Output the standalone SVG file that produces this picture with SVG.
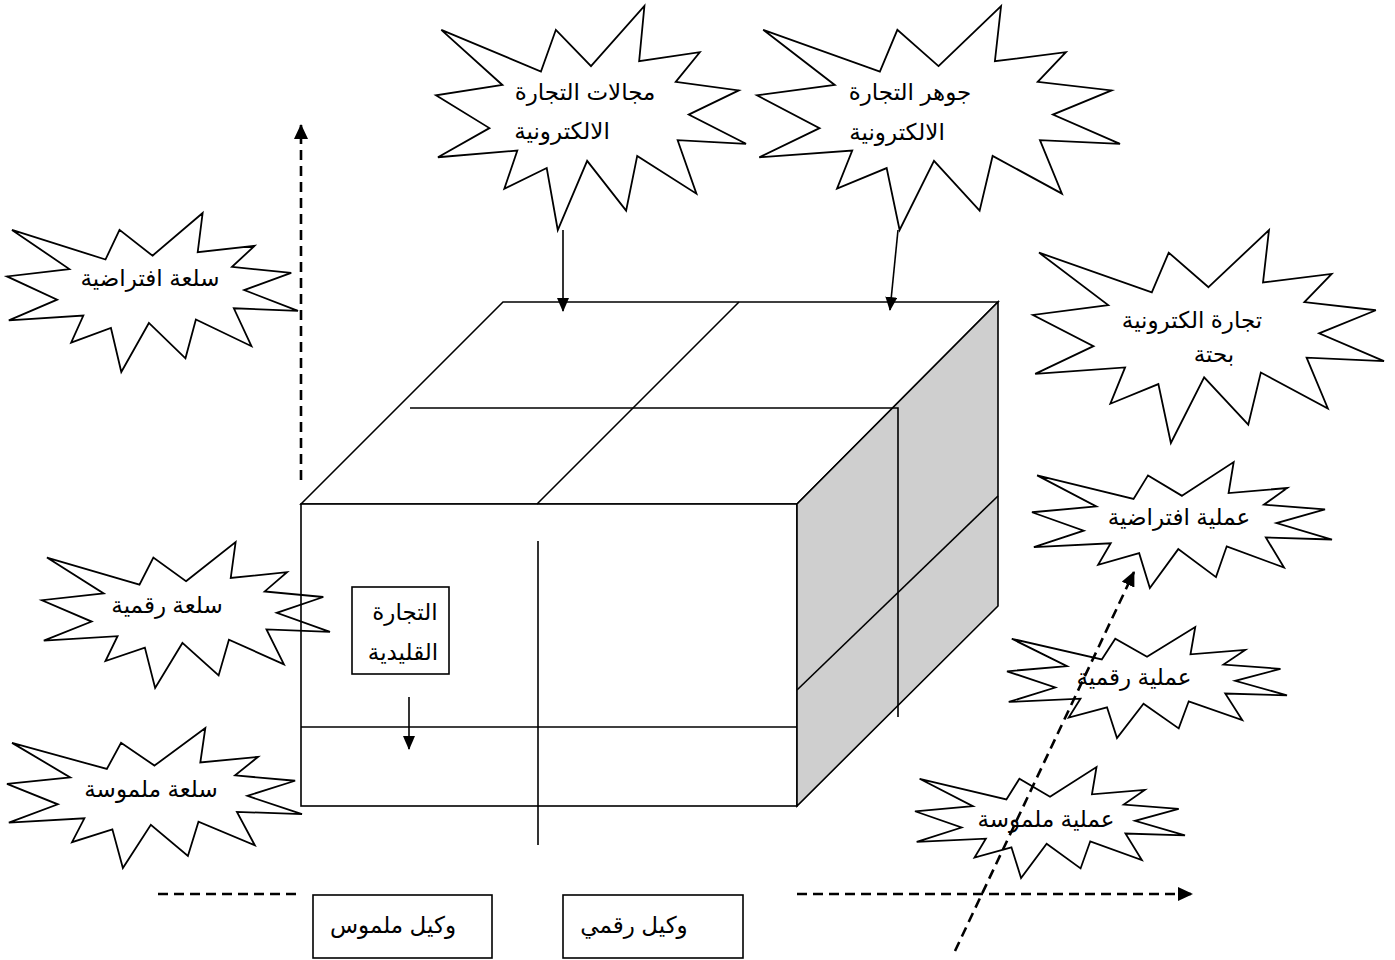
<svg xmlns="http://www.w3.org/2000/svg" xmlns:xlink="http://www.w3.org/1999/xlink" width="1395" height="960" viewBox="0 0 1395 960">
  <style>
    .edge { fill: none; stroke: #000; stroke-width: 1.6; }
    .face { stroke: #000; stroke-width: 1.6; stroke-linejoin: miter; }
    .seal { fill: none; stroke: #000; stroke-width: 1.8; }
    .lbl { font-family: "Liberation Sans", "DejaVu Sans", Arial, sans-serif; font-size: 23px; fill: #000; text-anchor: middle; }
    .solid { fill: none; stroke: #000; stroke-width: 1.6; marker-end: url(#head); }
    .dash { fill: none; stroke: #000; stroke-width: 2.6; stroke-dasharray: 10 6; }
    .dasharrow { marker-end: url(#headBig); }
    .box { fill: #fff; stroke: #000; stroke-width: 1.6; }
  </style>
  <defs>
    <!-- explosion outline in a 21600 x 21600 frame; stroke kept at screen width -->
    <path id="seal" vector-effect="non-scaling-stroke" stroke-linejoin="miter" d="M10800 5800 L14522 0 L14155 5325 L18380 4457 L16702 7315 L21097 8137 L17607 10475 L21600 13290 L16837 12942 L18145 18095 L14020 14457 L13247 19737 L10532 14935 L8485 21600 L7715 15627 L4762 17617 L5667 13937 L135 14587 L3722 11775 L0 8615 L4627 7617 L370 2295 L7312 6320 L8352 2295 Z"/>
    <marker id="head" viewBox="0 0 14 12" refX="13" refY="6" markerWidth="14" markerHeight="12" orient="auto" markerUnits="userSpaceOnUse">
      <path d="M0,0 L14,6 L0,12 Z" fill="#000"/>
    </marker>
    <marker id="headBig" viewBox="0 0 15 14" refX="14" refY="7" markerWidth="15" markerHeight="14" orient="auto" markerUnits="userSpaceOnUse">
      <path d="M0,0 L15,7 L0,14 Z" fill="#000"/>
    </marker>
  </defs>
  <rect width="1395" height="960" fill="#fff"/>

  <!-- the cube -->
  <g id="cube">
    <polygon class="face" points="301,504 503,302 998,302 797,504" fill="#fff"/>
    <rect class="face" x="301" y="504" width="496" height="302" fill="#fff"/>
    <polygon class="face" points="797,504 998,302 998,606 797,806" fill="#cfcfcf"/>
    <line class="edge" x1="537" y1="504" x2="739" y2="302"/>
    <polyline class="edge" points="410,408 898,408 898,717"/>
    <line class="edge" x1="797" y1="690" x2="998" y2="496"/>
    <line class="edge" x1="538" y1="541" x2="538" y2="845"/>
    <line class="edge" x1="301" y1="727" x2="797" y2="727"/>
  </g>

  <g id="traditional">
    <rect class="box" x="352" y="587" width="97" height="87"/>
    <text class="lbl" x="405" y="620">التجارة</text>
    <text class="lbl" x="403" y="660">القليدية</text>
  </g>

  <g id="agent-tangible">
    <rect class="box" x="313" y="895" width="179" height="63"/>
    <text class="lbl" x="393" y="933">وكيل ملموس</text>
  </g>
  <g id="agent-digital">
    <rect class="box" x="563" y="895" width="180" height="63"/>
    <text class="lbl" x="634" y="933">وكيل رقمي</text>
  </g>

  <g id="domains">
    <use xlink:href="#seal" class="seal" transform="translate(436 6) scale(0.014352 0.010370)"/>
    <text class="lbl" x="585" y="100">مجالات التجارة</text>
    <text class="lbl" x="562" y="139">الالكترونية</text>
  </g>
  <g id="essence">
    <use xlink:href="#seal" class="seal" transform="translate(757 6) scale(0.016806 0.010370)"/>
    <text class="lbl" x="910" y="100">جوهر التجارة</text>
    <text class="lbl" x="897" y="140">الالكترونية</text>
  </g>
  <g id="virtual-good">
    <use xlink:href="#seal" class="seal" transform="translate(7 213) scale(0.013472 0.007361)"/>
    <text class="lbl" x="150" y="286">سلعة افتراضية</text>
  </g>
  <g id="pure-ecommerce">
    <use xlink:href="#seal" class="seal" transform="translate(1033 230) scale(0.016250 0.009861)"/>
    <text class="lbl" x="1192" y="328">تجارة الكترونية</text>
    <text class="lbl" x="1214" y="362">بحتة</text>
  </g>
  <g id="virtual-process">
    <use xlink:href="#seal" class="seal" transform="translate(1032 462) scale(0.013889 0.005833)"/>
    <text class="lbl" x="1179" y="525">عملية افتراضية</text>
  </g>
  <g id="digital-process">
    <use xlink:href="#seal" class="seal" transform="translate(1007 627) scale(0.012963 0.005139)"/>
    <text class="lbl" x="1134" y="685">عملية رقمية</text>
  </g>
  <g id="tangible-process">
    <use xlink:href="#seal" class="seal" transform="translate(915 767) scale(0.012500 0.005139)"/>
    <text class="lbl" x="1046" y="827">عملية ملموسة</text>
  </g>
  <g id="digital-good">
    <use xlink:href="#seal" class="seal" transform="translate(42 542) scale(0.013333 0.006759)"/>
    <text class="lbl" x="167" y="613">سلعة رقمية</text>
  </g>
  <g id="tangible-good">
    <use xlink:href="#seal" class="seal" transform="translate(7 728) scale(0.013657 0.006481)"/>
    <text class="lbl" x="151" y="797">سلعة ملموسة</text>
  </g>

  <!-- connectors -->
  <g id="connectors">
    <line class="dash dasharrow" x1="301" y1="480" x2="301" y2="125"/>
    <line class="dash" x1="158" y1="894" x2="302" y2="894"/>
    <line class="dash dasharrow" x1="797" y1="894" x2="1192" y2="894"/>
    <line class="dash dasharrow" x1="955" y1="951" x2="1134" y2="572"/>
    <line class="solid" x1="563" y1="230" x2="563" y2="311"/>
    <line class="solid" x1="898" y1="230" x2="890" y2="310"/>
    <line class="solid" x1="409" y1="697" x2="409" y2="749"/>
  </g>
</svg>
